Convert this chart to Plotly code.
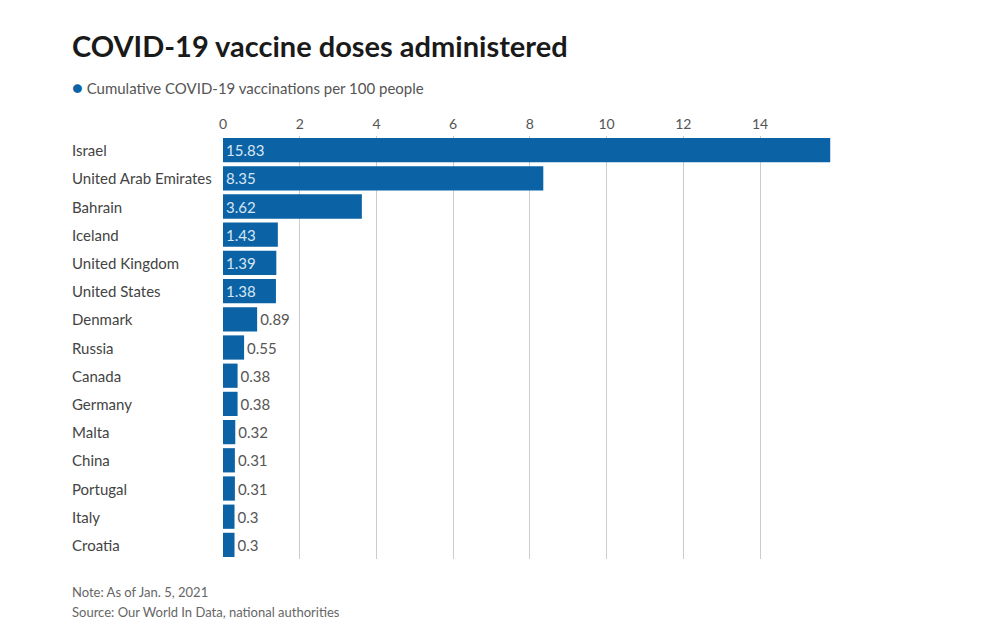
import plotly.graph_objects as go

countries = ['Israel', 'United Arab Emirates', 'Bahrain', 'Iceland', 'United Kingdom',
             'United States', 'Denmark', 'Russia', 'Canada', 'Germany', 'Malta',
             'China', 'Portugal', 'Italy', 'Croatia']
doses = [15.83, 8.35, 3.62, 1.43, 1.39, 1.38, 0.89, 0.55, 0.38, 0.38, 0.32,
         0.31, 0.31, 0.3, 0.3]
tick_vals = [0, 2, 4, 6, 8, 10, 12, 14]

blue = '#0b63a5'
font = 'Lato'

# page body adds 8px, so the figure is a bit smaller than the window
W, H = 992, 633
L, T, PW, PH = 215, 128, 608, 423
R, B = W - L - PW, H - T - PH


def py(pix):
    # pixel row in the screenshot -> paper y
    return (H - B - (pix - 8)) / PH


left = -(223 - 70) / PW

# labels sit inside the long bars, outside the short ones
positions = ['inside' if v > 1 else 'outside' for v in doses]
label_colors = ['#d6e6f4' if v > 1 else '#555555' for v in doses]

bars = go.Bar(
    x=doses,
    y=countries,
    orientation='h',
    marker={'color': blue, 'line': {'width': 0}},
    text=[str(v) for v in doses],
    textposition=positions,
    insidetextanchor='start',
    textfont={'color': label_colors, 'size': 15, 'family': font},
    cliponaxis=False,
    hoverinfo='x+y',
)

fig = go.Figure(data=[bars])

fig.update_layout(
    width=W, height=H,
    margin={'l': L, 'r': R, 't': T, 'b': B},
    paper_bgcolor='white', plot_bgcolor='white',
    bargap=0.14,
    showlegend=False,
    font={'family': font, 'color': '#555555'},
    xaxis={'side': 'top', 'range': [0, 15.85], 'tickvals': tick_vals,
           'showgrid': True, 'gridcolor': '#cccccc', 'gridwidth': 1,
           'zeroline': False, 'ticks': '', 'ticklabelstandoff': 3,
           'tickfont': {'size': 14, 'color': '#555555'}},
    yaxis={'autorange': 'reversed', 'showticklabels': False, 'showgrid': False,
           'zeroline': False, 'ticks': ''},
)

# country names, left aligned like the original
for c in countries:
    fig.add_annotation(x=left, xref='paper', y=c, yref='y', text=c,
                       showarrow=False, xanchor='left',
                       font={'size': 15, 'color': '#444444', 'family': font})

fig.add_annotation(x=left, xref='paper', y=py(45), yref='paper',
                   yanchor='middle', xanchor='left', showarrow=False,
                   text='<b>COVID-19 vaccine doses administered</b>',
                   font={'size': 29, 'color': '#1a1a1a', 'family': font})
fig.add_annotation(x=left, xref='paper', y=py(87), yref='paper',
                   yanchor='middle', xanchor='left', showarrow=False,
                   text='<span style="color:%s;font-size:18px">●</span> '
                        'Cumulative COVID-19 vaccinations per 100 people' % blue,
                   font={'size': 15, 'color': '#555555', 'family': font})
fig.add_annotation(x=left, xref='paper', y=py(592), yref='paper',
                   yanchor='middle', xanchor='left', showarrow=False,
                   text='Note: As of Jan. 5, 2021',
                   font={'size': 13, 'color': '#666666', 'family': font})
fig.add_annotation(x=left, xref='paper', y=py(612), yref='paper',
                   yanchor='middle', xanchor='left', showarrow=False,
                   text='Source: Our World In Data, national authorities',
                   font={'size': 13, 'color': '#666666', 'family': font})

fig.write_html('out.html')
